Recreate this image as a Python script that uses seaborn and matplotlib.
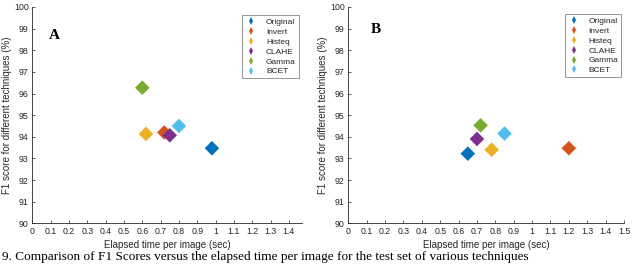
import matplotlib
matplotlib.use("Agg")
import matplotlib.pyplot as plt
import seaborn as sns
import pandas as pd
from matplotlib.lines import Line2D

techniques = ["Original", "Invert", "Histeq", "CLAHE", "Gamma", "BCET"]
colors = ["#0072BD", "#D95319", "#EDB120", "#7E2F8E", "#77AC30", "#4DBEEE"]

time_a = [0.98, 0.72, 0.62, 0.75, 0.60, 0.80]
f1_a = [93.47, 94.20, 94.13, 94.07, 96.27, 94.50]

time_b = [0.65, 1.20, 0.78, 0.70, 0.72, 0.85]
f1_b = [93.22, 93.47, 93.40, 93.90, 94.53, 94.15]

xticks_a = [0, 0.1, 0.2, 0.3, 0.4, 0.5, 0.6, 0.7, 0.8, 0.9, 1, 1.1, 1.2, 1.3, 1.4]
xticks_b = xticks_a + [1.5]
yticks = list(range(90, 101))

sns.set_theme(style="white")
plt.rcParams['font.family'] = ['Liberation Sans', 'DejaVu Sans']

fig = plt.figure(figsize=(6.4, 2.64), dpi=100)
W, H = 640, 264

def px_axes(l, r, t, b):
    return fig.add_axes([l / W, (H - b) / H, (r - l) / W, (b - t) / H])

ax_a = px_axes(32.3, 301.7, 7, 223.3)
ax_b = px_axes(348.3, 624, 7, 223.3)

palette = dict(zip(techniques, colors))

def fmt(v):
    return f"{v:g}"

for ax, tx, fy, xt, xmax, letter, lpos in [
    (ax_a, time_a, f1_a, xticks_a, 1.47, "A", (0.06, 0.87)),
    (ax_b, time_b, f1_b, xticks_b, 1.5, "B", (0.08, 0.895)),
]:
    df = pd.DataFrame({"Technique": techniques, "time": tx, "f1": fy})
    sns.scatterplot(data=df, x="time", y="f1", hue="Technique", palette=palette,
                    marker="D", s=55, edgecolor="none", legend=False, ax=ax, zorder=3)
    ax.set_xlim(0, xmax)
    ax.set_ylim(90, 100)
    ax.set_xticks(xt)
    ax.set_xticklabels([fmt(v) for v in xt])
    ax.set_yticks(yticks)
    ax.set_yticklabels([str(v) for v in yticks])
    for side in ["top", "right"]:
        ax.spines[side].set_visible(False)
    for side in ["left", "bottom"]:
        ax.spines[side].set_color("#262626")
        ax.spines[side].set_linewidth(0.6)
    ax.tick_params(axis="both", direction="in", length=2.5, width=0.5,
                   colors="#262626", labelsize=6.3, pad=2.5, bottom=True, left=True)
    ax.set_xlabel("Elapsed time per image (sec)", fontsize=7, color="#262626", labelpad=3)
    ax.set_ylabel("F1 score for different techniques (%)", fontsize=7,
                  color="#262626", labelpad=1.5)
    ax.text(lpos[0], lpos[1], letter, transform=ax.transAxes, fontsize=11,
            fontweight="bold", family=["Liberation Serif", "DejaVu Serif"],
            color="black", va="center", ha="left")
    handles = [Line2D([0], [0], marker="d", color=c, linestyle="none",
                      markersize=4, markeredgewidth=0) for c in colors]
    leg = ax.legend(handles, techniques, loc="upper right",
                    bbox_to_anchor=(0.995, 0.97) if letter == "A" else (0.995, 0.975),
                    fontsize=6, frameon=True, fancybox=False, handlelength=1.5,
                    handletextpad=1.0, labelspacing=0.25, borderpad=0.35,
                    borderaxespad=0.2)
    leg.get_frame().set_edgecolor("#7f7f7f")
    leg.get_frame().set_linewidth(0.7)

caption = "9. Comparison of F1 Scores versus the elapsed time per image for the test set of various techniques"
fig.text(0.003, 1 / H, caption, fontsize=9.5, family=["Liberation Serif", "DejaVu Serif"],
         color="black", va="bottom", ha="left")

fig.savefig("out.png", dpi=100)
